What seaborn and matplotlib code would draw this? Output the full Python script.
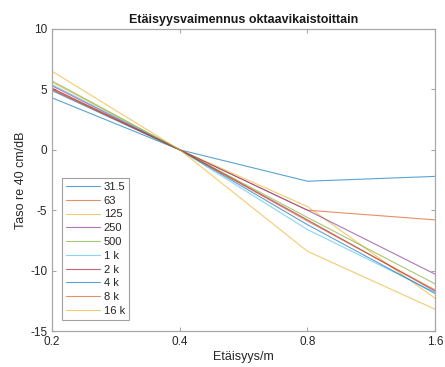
import pandas as pd
import matplotlib
matplotlib.use('Agg')
import matplotlib.pyplot as plt
from matplotlib.lines import Line2D
import seaborn as sns

# distances (m) and octave band levels re 40 cm (dB)
distances = [0.2, 0.4, 0.8, 1.6]
bands = ['31.5', '63', '125', '250', '500', '1 k', '2 k', '4 k', '8 k', '16 k']
lvl_31_5 = [4.3, 0.0, -2.6, -2.2]
lvl_63 = [5.0, 0.0, -5.0, -5.8]
lvl_125 = [5.6, 0.0, -4.7, -12.3]
lvl_250 = [5.3, 0.0, -5.0, -10.3]
lvl_500 = [5.7, 0.0, -5.6, -11.1]
lvl_1k = [5.4, 0.0, -6.6, -11.8]
lvl_2k = [5.1, 0.0, -5.8, -11.7]
lvl_4k = [4.9, 0.0, -6.2, -11.9]
lvl_8k = [5.0, 0.0, -5.9, -11.6]
lvl_16k = [6.5, 0.0, -8.4, -13.2]

levels = [lvl_31_5, lvl_63, lvl_125, lvl_250, lvl_500,
          lvl_1k, lvl_2k, lvl_4k, lvl_8k, lvl_16k]

# matlab default line colours
colors = ['#0072BD', '#D95319', '#EDB120', '#7E2F8E', '#77AC30',
          '#4DBEEE', '#A2142F', '#0072BD', '#D95319', '#EDB120']

rows = []
for band, vals in zip(bands, levels):
    for d, v in zip(distances, vals):
        rows.append({'Distance': d, 'Level': v, 'Band': band})
df = pd.DataFrame(rows)

sns.set_style('white')
plt.rcParams['font.family'] = ['Liberation Sans', 'DejaVu Sans']
plt.rcParams['axes.unicode_minus'] = False

fig = plt.figure(figsize=(4.45, 3.67), dpi=100)
ax = fig.add_axes([0.117, 0.098, 0.861, 0.823])

sns.lineplot(data=df, x='Distance', y='Level', hue='Band', hue_order=bands,
             palette=colors, linewidth=0.8, alpha=0.65, ax=ax, sort=False,
             legend=False)

ax.set_xscale('log')
ax.set_xlim(0.2, 1.6)
ax.set_ylim(-15, 10)
ax.set_xticks(distances)
ax.set_xticklabels(['0.2', '0.4', '0.8', '1.6'])
ax.minorticks_off()
ax.set_yticks([-15, -10, -5, 0, 5, 10])

for s in ax.spines.values():
    s.set_color('#a8a8a8')
    s.set_linewidth(0.9)
ax.tick_params(direction='in', length=3, color='#a8a8a8', labelsize=8.5,
               labelcolor='#262626', top=True, right=True, bottom=True, left=True)

ax.set_title('Etäisyysvaimennus oktaavikaistoittain', fontsize=9, fontweight='bold',
             color='#1a1a1a', pad=4)
ax.set_xlabel('Etäisyys/m', fontsize=9, color='#262626', labelpad=2)
ax.set_ylabel('Taso re 40 cm/dB', fontsize=9, color='#262626', labelpad=2)

handles = [Line2D([], [], color=c, lw=0.8, alpha=0.65) for c in colors]
leg = ax.legend(handles, bands, loc='lower left', bbox_to_anchor=(0.02, 0.03),
                fontsize=8, frameon=True, fancybox=False, handlelength=3.1,
                handletextpad=0.3, labelspacing=0.34, borderpad=0.35,
                borderaxespad=0.2)
leg.get_frame().set_edgecolor('#8a8a8a')
leg.get_frame().set_linewidth(0.8)

fig.savefig('out.png', dpi=100)
